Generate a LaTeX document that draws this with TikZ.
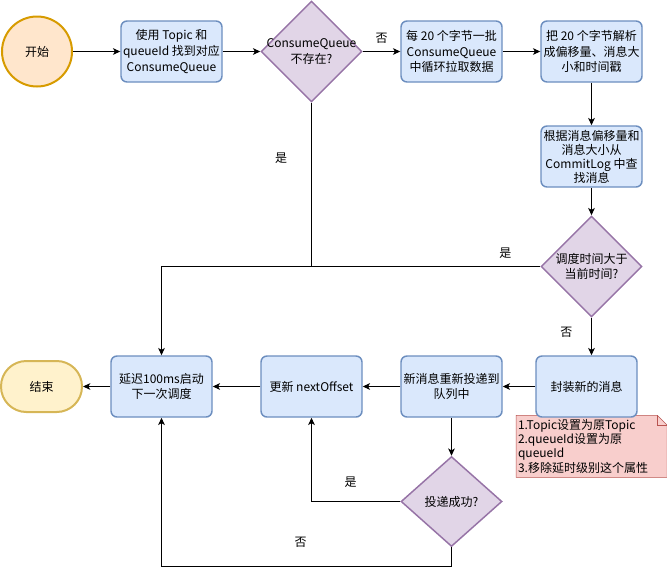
\documentclass[tikz,border=0pt]{standalone}
\usepackage{fontspec}
\setmainfont{Noto Sans CJK SC}
\usetikzlibrary{arrows,arrows.meta,calc,positioning,shapes.geometric,backgrounds}

\definecolor{boxfill}{HTML}{DAE8FC}
\definecolor{boxline}{HTML}{6C8EBF}
\definecolor{askfill}{HTML}{E1D5E7}
\definecolor{askline}{HTML}{9673A6}
\definecolor{startfill}{HTML}{FFE6CC}
\definecolor{startline}{HTML}{D79B00}
\definecolor{stopfill}{HTML}{FFF2CC}
\definecolor{stopline}{HTML}{D6B656}
\definecolor{memofill}{HTML}{F8CECC}
\definecolor{memoline}{HTML}{B85450}

\tikzset{
	proc/.style={rectangle,rounded corners=4.5pt,draw=boxline,fill=boxfill,line width=1.1pt,minimum width=75.75pt,minimum height=45.75pt,inner sep=1pt,align=center},
	ask/.style={diamond,draw=askline,fill=askfill,line width=1.1pt,minimum width=75.75pt,minimum height=75.75pt,inner sep=0pt},
	begin/.style={circle,draw=startline,fill=startfill,line width=1.5pt,minimum size=52.5pt,inner sep=0pt},
	stop/.style={rectangle,rounded corners=19pt,draw=stopline,fill=stopfill,line width=1.5pt,minimum width=60.75pt,minimum height=38.25pt},
	memo/.style={rectangle,minimum width=112.5pt,minimum height=45.75pt,text width=110.5pt,inner sep=1pt,align=left,font=\fontsize{9pt}{10.7pt}\selectfont},
	tag/.style={inner sep=0pt}
}

\begin{document}
\begin{tikzpicture}[x=0.75pt,y=-0.75pt,>={Stealth[length=5.5pt,width=5pt,inset=1.5pt]},line width=0.75pt,node font=\fontsize{9pt}{11.7pt}\selectfont]
		\useasboundingbox (0,0) rectangle (667,575);
		\node[begin] (start) at (37,51.5) {开始};
		\node[proc] (find) at (171.5,51.5) {使用 Topic 和\\queueId 找到对应\\ConsumeQueue};
		\node[ask,label={[align=center]center:ConsumeQueue\\不存在?}] (exist) at (311.5,51.5) {};
		\node[proc] (pull) at (451.5,51.5) {每 20 个字节一批\\ConsumeQueue\\中循环拉取数据};
		\node[proc] (parse) at (591.5,51.5) {把 20 个字节解析\\成偏移量、消息大\\小和时间戳};
		\node[proc,font=\fontsize{9pt}{10.5pt}\selectfont,inner sep=0pt] (lookup) at (591.5,156.5) {根据消息偏移量和\\消息大小从\\CommitLog 中查\\找消息};
		\node[ask,label={[align=center]center:调度时间大于\\当前时间?}] (due) at (591.5,266.5) {};
		\node[proc] (wrap) at (586.5,386.5) {封装新的消息};
		\node[proc] (resend) at (451.5,386.5) {新消息重新投递到\\队列中};
		\node[ask,minimum height=67.5pt,label=center:投递成功?] (ok) at (451.5,501.5) {};
		\node[proc] (offset) at (311.5,386.5) {更新 nextOffset};
		\node[proc] (delay) at (161.5,386.5) {延迟100ms启动\\下一次调度};
		\node[stop] (end) at (41.5,386.5) {结束};
		\node[memo] (memo) at (591.7,446.3) {1.Topic设置为原Topic\\2.queueId设置为原\\queueId\\3.移除延时级别这个属性};
		\begin{scope}[on background layer]
			\draw[draw=memoline,fill=memofill] (memo.north west) -- ([xshift=-7.5pt]memo.north east) -- ([yshift=-7.5pt]memo.north east) -- (memo.south east) -- (memo.south west) -- cycle;
			\draw[draw=memoline] ([xshift=-7.5pt]memo.north east) -- ([xshift=-7.5pt,yshift=-7.5pt]memo.north east) -- ([yshift=-7.5pt]memo.north east);
		\end{scope}
		\coordinate (back) at (451.5,566);
		\path[->]
			(start) edge (find)
			(find) edge (exist)
			(exist) edge node[tag,above=6pt] {否} (pull)
			(pull) edge (parse)
			(parse) edge (lookup)
			(lookup) edge (due)
			(wrap) edge (resend)
			(resend) edge (offset)
			(offset) edge (delay)
			(delay) edge (end)
			(resend) edge (ok);
		\draw[->] (due) -- (due |- wrap.north) node[tag,pos=0.4,left=14pt] {否};
		\draw[->] (due) -| node[tag,pos=0.046,above=6pt] {是} (delay);
		\draw (exist) -- (exist |- due) node[tag,pos=0.336,left=18pt] {是};
		\draw[->] (ok) -| node[tag,pos=0.28,above=10pt] {是} (offset);
		\draw[->] (ok) -- (back) -| node[tag,pos=0.26,above=13.5pt] {否} (delay);
	\end{tikzpicture}
\end{document}
